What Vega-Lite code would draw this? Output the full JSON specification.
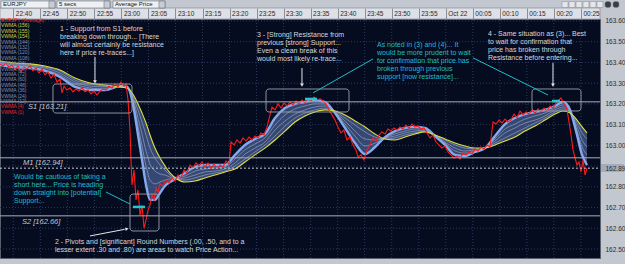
{
"$schema":"https://vega.github.io/schema/vega-lite/v6.json",
"width":600,"height":239,
"autosize":{"type":"none"},
"padding":{"left":0,"top":19,"right":25,"bottom":6},
"background":"#c3c7d0",
"view":{"fill":"#060c20","stroke":"#5a606c"},
"config":{"font":"Liberation Sans"},
"datasets":{
"price":[
{"t":37.54,"p":163.393},{"t":38.10,"p":163.383},{"t":38.65,"p":163.397},{"t":39.20,"p":163.378},{"t":39.76,"p":163.388},{"t":40.31,"p":163.364},{"t":40.87,"p":163.383},{"t":41.42,"p":163.354},{"t":41.98,"p":163.378},{"t":42.53,"p":163.368},{"t":43.09,"p":163.383},{"t":43.64,"p":163.359},{"t":44.20,"p":163.373},{"t":44.75,"p":163.349},{"t":45.31,"p":163.368},{"t":45.86,"p":163.340},{"t":46.42,"p":163.354},{"t":46.97,"p":163.325},{"t":47.53,"p":163.344},{"t":48.08,"p":163.306},{"t":48.64,"p":163.320},{"t":49.01,"p":163.253},{"t":49.38,"p":163.286},{"t":49.93,"p":163.267},{"t":50.49,"p":163.277},{"t":51.04,"p":163.258},{"t":51.60,"p":163.272},{"t":52.15,"p":163.262},{"t":52.71,"p":163.277},{"t":53.26,"p":163.258},{"t":53.82,"p":163.267},{"t":54.37,"p":163.248},{"t":54.93,"p":163.262},{"t":55.48,"p":163.243},{"t":56.04,"p":163.262},{"t":56.59,"p":163.272},{"t":57.15,"p":163.267},{"t":57.70,"p":163.286},{"t":58.26,"p":163.277},{"t":58.81,"p":163.296},{"t":59.37,"p":163.282},{"t":59.92,"p":163.306},{"t":60.48,"p":163.286},{"t":60.85,"p":163.296},{"t":61.22,"p":163.219},{"t":61.59,"p":163.074},{"t":61.77,"p":162.930},{"t":61.96,"p":162.809},{"t":62.33,"p":162.881},{"t":62.70,"p":162.737},{"t":63.07,"p":162.785},{"t":63.44,"p":162.664},{"t":63.81,"p":162.712},{"t":64.18,"p":162.601},{"t":64.55,"p":162.640},{"t":64.92,"p":162.688},{"t":65.29,"p":162.712},{"t":65.66,"p":162.761},{"t":66.03,"p":162.737},{"t":66.40,"p":162.794},{"t":66.77,"p":162.775},{"t":67.14,"p":162.814},{"t":67.69,"p":162.804},{"t":68.25,"p":162.833},{"t":68.80,"p":162.819},{"t":69.36,"p":162.843},{"t":69.91,"p":162.828},{"t":70.47,"p":162.857},{"t":71.02,"p":162.843},{"t":71.58,"p":162.881},{"t":72.13,"p":162.867},{"t":72.69,"p":162.905},{"t":73.24,"p":162.891},{"t":73.80,"p":162.915},{"t":74.35,"p":162.901},{"t":74.91,"p":162.920},{"t":75.46,"p":162.896},{"t":76.02,"p":162.915},{"t":76.57,"p":162.891},{"t":77.13,"p":162.910},{"t":77.68,"p":162.886},{"t":78.24,"p":162.905},{"t":78.79,"p":162.896},{"t":79.35,"p":162.925},{"t":79.90,"p":162.910},{"t":80.27,"p":163.016},{"t":80.83,"p":163.002},{"t":81.38,"p":163.026},{"t":81.94,"p":163.011},{"t":82.49,"p":163.036},{"t":83.05,"p":163.021},{"t":83.60,"p":163.040},{"t":84.16,"p":163.026},{"t":84.71,"p":163.045},{"t":85.27,"p":163.036},{"t":85.82,"p":163.060},{"t":86.38,"p":163.050},{"t":86.93,"p":163.089},{"t":87.49,"p":163.147},{"t":87.86,"p":163.185},{"t":88.41,"p":163.171},{"t":88.97,"p":163.200},{"t":89.52,"p":163.180},{"t":90.08,"p":163.204},{"t":90.63,"p":163.190},{"t":91.19,"p":163.209},{"t":91.74,"p":163.195},{"t":92.30,"p":163.214},{"t":92.85,"p":163.200},{"t":93.41,"p":163.219},{"t":93.96,"p":163.204},{"t":94.52,"p":163.224},{"t":95.07,"p":163.214},{"t":95.63,"p":163.233},{"t":96.18,"p":163.219},{"t":96.73,"p":163.224},{"t":97.29,"p":163.214},{"t":97.84,"p":163.200},{"t":98.40,"p":163.171},{"t":98.95,"p":163.147},{"t":99.51,"p":163.122},{"t":100.06,"p":163.089},{"t":100.62,"p":163.060},{"t":101.17,"p":163.074},{"t":101.73,"p":163.026},{"t":102.28,"p":163.040},{"t":102.84,"p":163.002},{"t":103.39,"p":162.978},{"t":103.76,"p":162.944},{"t":104.32,"p":162.954},{"t":104.87,"p":162.930},{"t":105.43,"p":162.978},{"t":105.98,"p":163.002},{"t":106.54,"p":163.036},{"t":107.09,"p":163.021},{"t":107.65,"p":163.050},{"t":108.20,"p":163.065},{"t":108.76,"p":163.055},{"t":109.31,"p":163.079},{"t":109.87,"p":163.069},{"t":110.42,"p":163.084},{"t":110.98,"p":163.074},{"t":111.53,"p":163.089},{"t":112.09,"p":163.079},{"t":112.64,"p":163.098},{"t":113.20,"p":163.084},{"t":113.75,"p":163.103},{"t":114.31,"p":163.089},{"t":114.86,"p":163.093},{"t":115.42,"p":163.079},{"t":115.97,"p":163.084},{"t":116.53,"p":163.060},{"t":117.08,"p":163.036},{"t":117.64,"p":163.050},{"t":118.19,"p":163.016},{"t":118.75,"p":163.002},{"t":119.30,"p":162.987},{"t":119.86,"p":162.997},{"t":120.41,"p":162.968},{"t":120.97,"p":162.954},{"t":121.52,"p":162.939},{"t":122.08,"p":162.949},{"t":122.63,"p":162.934},{"t":123.19,"p":162.963},{"t":123.74,"p":162.954},{"t":124.30,"p":162.968},{"t":124.85,"p":162.958},{"t":125.41,"p":162.983},{"t":125.96,"p":162.973},{"t":126.52,"p":162.992},{"t":127.07,"p":162.983},{"t":127.63,"p":163.002},{"t":128.18,"p":162.992},{"t":128.74,"p":163.113},{"t":129.29,"p":163.103},{"t":129.85,"p":163.122},{"t":130.40,"p":163.108},{"t":130.96,"p":163.127},{"t":131.51,"p":163.113},{"t":132.07,"p":163.122},{"t":132.62,"p":163.151},{"t":133.18,"p":163.132},{"t":133.73,"p":163.166},{"t":134.29,"p":163.147},{"t":134.84,"p":163.161},{"t":135.40,"p":163.151},{"t":135.95,"p":163.171},{"t":136.51,"p":163.156},{"t":137.06,"p":163.176},{"t":137.62,"p":163.161},{"t":138.17,"p":163.180},{"t":138.73,"p":163.166},{"t":139.28,"p":163.190},{"t":139.84,"p":163.180},{"t":140.39,"p":163.204},{"t":140.95,"p":163.219},{"t":141.32,"p":163.229},{"t":141.69,"p":163.209},{"t":142.06,"p":163.195},{"t":142.43,"p":163.171},{"t":142.80,"p":163.113},{"t":143.17,"p":163.050},{"t":143.54,"p":162.978},{"t":143.91,"p":162.939},{"t":144.28,"p":162.905},{"t":144.65,"p":162.920},{"t":145.02,"p":162.872},{"t":145.39,"p":162.930},{"t":145.76,"p":162.857},{"t":146.13,"p":162.891}
],
"ma":[
{"t":37.54,"p":163.388,"m1":163.393,"m2":163.397,"m3":163.402,"p2":163.407},
{"t":40.31,"p":163.378,"m1":163.383,"m2":163.388,"m3":163.393,"p2":163.397},
{"t":43.09,"p":163.373,"m1":163.378,"m2":163.383,"m3":163.388,"p2":163.393},
{"t":45.86,"p":163.359,"m1":163.364,"m2":163.373,"m3":163.378,"p2":163.383},
{"t":48.64,"p":163.330,"m1":163.340,"m2":163.349,"m3":163.359,"p2":163.364},
{"t":51.41,"p":163.282,"m1":163.296,"m2":163.306,"m3":163.315,"p2":163.325},
{"t":54.19,"p":163.267,"m1":163.277,"m2":163.286,"m3":163.296,"p2":163.301},
{"t":56.96,"p":163.267,"m1":163.272,"m2":163.282,"m3":163.286,"p2":163.291},
{"t":59.74,"p":163.286,"m1":163.286,"m2":163.282,"m3":163.282,"p2":163.282},
{"t":60.85,"p":163.286,"m1":163.282,"m2":163.282,"m3":163.277,"p2":163.277},
{"t":61.59,"p":163.258,"m1":163.262,"m2":163.262,"m3":163.267,"p2":163.267},
{"t":62.33,"p":163.171,"m1":163.190,"m2":163.209,"m3":163.224,"p2":163.238},
{"t":63.07,"p":163.050,"m1":163.093,"m2":163.132,"m3":163.171,"p2":163.200},
{"t":63.81,"p":162.930,"m1":162.997,"m2":163.055,"m3":163.113,"p2":163.156},
{"t":64.55,"p":162.809,"m1":162.901,"m2":162.973,"m3":163.050,"p2":163.108},
{"t":65.29,"p":162.737,"m1":162.833,"m2":162.910,"m3":162.987,"p2":163.050},
{"t":66.21,"p":162.737,"m1":162.814,"m2":162.876,"m3":162.939,"p2":162.987},
{"t":67.14,"p":162.770,"m1":162.823,"m2":162.862,"m3":162.905,"p2":162.939},
{"t":68.06,"p":162.804,"m1":162.833,"m2":162.857,"m3":162.881,"p2":162.901},
{"t":68.99,"p":162.823,"m1":162.838,"m2":162.847,"m3":162.857,"p2":162.867},
{"t":70.28,"p":162.843,"m1":162.843,"m2":162.838,"m3":162.838,"p2":162.838},
{"t":71.76,"p":162.867,"m1":162.852,"m2":162.843,"m3":162.833,"p2":162.823},
{"t":73.61,"p":162.896,"m1":162.876,"m2":162.857,"m3":162.843,"p2":162.828},
{"t":75.46,"p":162.905,"m1":162.886,"m2":162.872,"m3":162.857,"p2":162.843},
{"t":77.31,"p":162.905,"m1":162.891,"m2":162.876,"m3":162.867,"p2":162.857},
{"t":79.16,"p":162.905,"m1":162.896,"m2":162.886,"m3":162.876,"p2":162.872},
{"t":81.01,"p":162.954,"m1":162.934,"m2":162.915,"m3":162.901,"p2":162.886},
{"t":82.86,"p":163.002,"m1":162.978,"m2":162.958,"m3":162.934,"p2":162.920},
{"t":84.71,"p":163.031,"m1":163.007,"m2":162.987,"m3":162.968,"p2":162.954},
{"t":86.56,"p":163.055,"m1":163.036,"m2":163.016,"m3":163.002,"p2":162.987},
{"t":88.41,"p":163.132,"m1":163.098,"m2":163.074,"m3":163.045,"p2":163.026},
{"t":90.26,"p":163.180,"m1":163.147,"m2":163.118,"m3":163.093,"p2":163.069},
{"t":92.11,"p":163.200,"m1":163.176,"m2":163.151,"m3":163.132,"p2":163.113},
{"t":93.96,"p":163.209,"m1":163.190,"m2":163.171,"m3":163.156,"p2":163.142},
{"t":95.81,"p":163.219,"m1":163.200,"m2":163.185,"m3":163.171,"p2":163.161},
{"t":97.66,"p":163.209,"m1":163.200,"m2":163.190,"m3":163.180,"p2":163.171},
{"t":99.51,"p":163.156,"m1":163.161,"m2":163.161,"m3":163.166,"p2":163.166},
{"t":101.36,"p":163.084,"m1":163.103,"m2":163.118,"m3":163.132,"p2":163.147},
{"t":103.21,"p":163.011,"m1":163.045,"m2":163.069,"m3":163.098,"p2":163.118},
{"t":105.06,"p":162.958,"m1":162.997,"m2":163.031,"m3":163.065,"p2":163.089},
{"t":106.91,"p":162.992,"m1":163.011,"m2":163.026,"m3":163.040,"p2":163.055},
{"t":108.76,"p":163.040,"m1":163.036,"m2":163.036,"m3":163.031,"p2":163.031},
{"t":110.61,"p":163.069,"m1":163.055,"m2":163.045,"m3":163.036,"p2":163.026},
{"t":112.46,"p":163.084,"m1":163.069,"m2":163.060,"m3":163.050,"p2":163.040},
{"t":114.31,"p":163.089,"m1":163.079,"m2":163.069,"m3":163.060,"p2":163.055},
{"t":116.16,"p":163.084,"m1":163.079,"m2":163.074,"m3":163.069,"p2":163.065},
{"t":118.01,"p":163.045,"m1":163.045,"m2":163.050,"m3":163.050,"p2":163.050},
{"t":119.86,"p":163.002,"m1":163.011,"m2":163.016,"m3":163.026,"p2":163.031},
{"t":121.71,"p":162.954,"m1":162.973,"m2":162.987,"m3":163.002,"p2":163.011},
{"t":123.56,"p":162.949,"m1":162.963,"m2":162.973,"m3":162.987,"p2":162.997},
{"t":125.41,"p":162.968,"m1":162.973,"m2":162.978,"m3":162.983,"p2":162.987},
{"t":127.26,"p":162.987,"m1":162.987,"m2":162.987,"m3":162.987,"p2":162.987},
{"t":129.11,"p":163.045,"m1":163.031,"m2":163.021,"m3":163.011,"p2":163.002},
{"t":130.96,"p":163.103,"m1":163.079,"m2":163.060,"m3":163.036,"p2":163.021},
{"t":132.81,"p":163.132,"m1":163.103,"m2":163.084,"m3":163.060,"p2":163.040},
{"t":134.66,"p":163.151,"m1":163.127,"m2":163.108,"m3":163.084,"p2":163.069},
{"t":136.51,"p":163.161,"m1":163.142,"m2":163.122,"m3":163.108,"p2":163.093},
{"t":138.36,"p":163.171,"m1":163.156,"m2":163.142,"m3":163.132,"p2":163.122},
{"t":140.21,"p":163.190,"m1":163.180,"m2":163.171,"m3":163.161,"p2":163.151},
{"t":141.69,"p":163.209,"m1":163.195,"m2":163.185,"m3":163.176,"p2":163.166},
{"t":142.99,"p":163.171,"m1":163.166,"m2":163.161,"m3":163.161,"p2":163.156},
{"t":144.28,"p":163.050,"m1":163.069,"m2":163.089,"m3":163.108,"p2":163.122},
{"t":145.21,"p":162.954,"m1":162.992,"m2":163.026,"m3":163.060,"p2":163.089},
{"t":146.13,"p":162.905,"m1":162.954,"m2":162.992,"m3":163.031,"p2":163.060}
]
},
"encoding":{
"x":{"field":"t","type":"quantitative","scale":{"domain":[37.54,148.53],"nice":false,"zero":false},
 "axis":{"orient":"top","title":null,"values":[40,45,50,55,60,65,70,75,80,85,90,95,100,105,110,115,120,125,130,135,140,145],
  "labelExpr":"datum.value == 120 ? 'Oct 22' : datum.value < 60 ? '22:' + datum.value : datum.value < 120 ? '23:' + (datum.value < 70 ? '0' : '') + (datum.value - 60) : '00:' + (datum.value < 130 ? '0' : '') + (datum.value - 120)",
  "labelAlign":"left","labelOffset":2,"labelFontSize":6.5,"labelColor":"#2b2b2b","labelFont":"Liberation Sans",
  "tickSize":11,"tickColor":"#8a8f99","labelPadding":-8.5,"domain":false,"grid":false,"labelOverlap":false,"labelFlush":false,"labelBound":false,"zindex":1}},
"y":{"field":"p","type":"quantitative","scale":{"domain":[162.4567,163.6096],"nice":false,"zero":false},
 "axis":{"orient":"right","title":null,"values":[163.6,163.5,163.4,163.3,163.2,163.1,163.0,162.89,162.8,162.7,162.6,162.5],
  "format":".2f","labelFontSize":6.5,"labelColor":"#2b2b2b","labelFont":"Liberation Sans","ticks":false,"labelPadding":5,
  "domain":false,"grid":false,"labelOverlap":false,"labelBound":false,"zindex":1}}
},
"layer":[
{"data":{"values":[{"t":37.54,"t2":148.53,"p":163.6627,"p2":163.6096}]},
 "mark":{"type":"rect","fill":"#dde0e6","stroke":"#7d828c","strokeWidth":0.6,"clip":false},
 "encoding":{"x2":{"field":"t2"},"y2":{"field":"p2"}}},
{"data":{"values":[{"t":37.72,"t2":47.71,"p":163.6965,"p2":163.6627},{"t":48.08,"t2":57.89,"p":163.6965,"p2":163.6627},{"t":58.44,"t2":68.06,"p":163.6965,"p2":163.6627}]},
 "mark":{"type":"rect","fill":"#eef0f3","stroke":"#70757e","strokeWidth":0.6,"clip":false},
 "encoding":{"x2":{"field":"t2"},"y2":{"field":"p2"}}},
{"data":{"values":[{"t":46.60,"t2":47.71,"p":163.6965,"p2":163.6627},{"t":56.78,"t2":57.89,"p":163.6965,"p2":163.6627},{"t":66.95,"t2":68.06,"p":163.6965,"p2":163.6627}]},
 "mark":{"type":"rect","fill":"#c8ccd4","stroke":"#70757e","strokeWidth":0.6,"clip":false},
 "encoding":{"x2":{"field":"t2"},"y2":{"field":"p2"}}},
{"data":{"values":[{"t":141.50,"t2":142.61,"p":163.694,"p2":163.665},{"t":142.80,"t2":143.90,"p":163.694,"p2":163.665},{"t":144.09,"t2":145.20,"p":163.694,"p2":163.665},{"t":145.38,"t2":146.49,"p":163.694,"p2":163.665},{"t":146.68,"t2":147.79,"p":163.694,"p2":163.665},{"t":147.97,"t2":149.08,"p":163.694,"p2":163.665}]},
 "mark":{"type":"rect","fill":"#e4e6ea","stroke":"#80848c","strokeWidth":0.5,"clip":false},
 "encoding":{"x2":{"field":"t2"},"y2":{"field":"p2"}}},
{"data":{"values":[{"t":149.45,"t2":150.56,"p":163.694,"p2":163.665},{"t":150.93,"t2":152.04,"p":163.694,"p2":163.665}]},
 "mark":{"type":"rect","fill":"#3a3e46","stroke":"#80848c","strokeWidth":0.5,"cornerRadius":2,"clip":false},
 "encoding":{"x2":{"field":"t2"},"y2":{"field":"p2"}}},
{"data":{"values":[{"t":38.10,"p":163.6796,"text":"EURJPY"},{"t":48.45,"p":163.6796,"text":"5 secs"},{"t":58.80,"p":163.6796,"text":"Average Price"}]},
 "mark":{"type":"text","align":"left","baseline":"middle","fontSize":6,"color":"#111111","clip":false},
 "encoding":{"text":{"field":"text"}}},
{"data":{"values":[{"t":148.72,"t2":152.97,"p":162.910,"p2":162.872}]},
 "mark":{"type":"rect","fill":"#a3abbd","clip":false},
 "encoding":{"x2":{"field":"t2"},"y2":{"field":"p2"}}},
{"data":{"values":[{"t":40,"p":162.4567,"p2":163.6096},{"t":45,"p":162.4567,"p2":163.6096},{"t":50,"p":162.4567,"p2":163.6096},{"t":55,"p":162.4567,"p2":163.6096},{"t":60,"p":162.4567,"p2":163.6096},{"t":65,"p":162.4567,"p2":163.6096},{"t":70,"p":162.4567,"p2":163.6096},{"t":75,"p":162.4567,"p2":163.6096},{"t":80,"p":162.4567,"p2":163.6096},{"t":85,"p":162.4567,"p2":163.6096},{"t":90,"p":162.4567,"p2":163.6096},{"t":95,"p":162.4567,"p2":163.6096},{"t":100,"p":162.4567,"p2":163.6096},{"t":105,"p":162.4567,"p2":163.6096},{"t":110,"p":162.4567,"p2":163.6096},{"t":115,"p":162.4567,"p2":163.6096},{"t":120,"p":162.4567,"p2":163.6096},{"t":125,"p":162.4567,"p2":163.6096},{"t":130,"p":162.4567,"p2":163.6096},{"t":135,"p":162.4567,"p2":163.6096},{"t":140,"p":162.4567,"p2":163.6096},{"t":145,"p":162.4567,"p2":163.6096}]},
 "mark":{"type":"rule","color":"#2c3a60","strokeDash":[1,2],"strokeWidth":1},
 "encoding":{"y2":{"field":"p2"}}},
{"data":{"values":[{"t":37.54,"t2":148.53,"p":163.6},{"t":37.54,"t2":148.53,"p":163.5},{"t":37.54,"t2":148.53,"p":163.4},{"t":37.54,"t2":148.53,"p":163.3},{"t":37.54,"t2":148.53,"p":163.2},{"t":37.54,"t2":148.53,"p":163.1},{"t":37.54,"t2":148.53,"p":163.0},{"t":37.54,"t2":148.53,"p":162.9},{"t":37.54,"t2":148.53,"p":162.8},{"t":37.54,"t2":148.53,"p":162.7},{"t":37.54,"t2":148.53,"p":162.6},{"t":37.54,"t2":148.53,"p":162.5}]},
 "mark":{"type":"rule","color":"#2c3a60","strokeDash":[1,2],"strokeWidth":1},
 "encoding":{"x2":{"field":"t2"}}},
{"data":{"name":"ma"},
 "mark":{"type":"area","interpolate":"monotone","color":"#6384c6","opacity":0.5},
 "encoding":{"y2":{"field":"p2"}}},
{"data":{"name":"ma"},
 "transform":[{"fold":["m1","m2","m3"],"as":["series","p"]}],
 "mark":{"type":"line","interpolate":"monotone","color":"#eef2ff","strokeWidth":0.6,"opacity":0.6},
 "encoding":{"detail":{"field":"series"}}},
{"data":{"name":"ma"},
 "mark":{"type":"line","interpolate":"monotone","color":"#86a8ec","strokeWidth":2.4}},
{"data":{"name":"ma"},
 "transform":[{"fold":["p2"],"as":["series","p"]}],
 "mark":{"type":"line","interpolate":"monotone","color":"#dede3c","strokeWidth":1.1}},
{"data":{"name":"price"},
 "mark":{"type":"line","color":"#ff1a1a","strokeWidth":1.1}},
{"data":{"values":[{"t":37.54,"t2":148.53,"p":163.21},{"t":37.54,"t2":148.53,"p":162.94},{"t":37.54,"t2":148.53,"p":162.66}]},
 "mark":{"type":"rule","color":"#a9aeb8","strokeWidth":1},
 "encoding":{"x2":{"field":"t2"}}},
{"data":{"values":[{"t":37.54,"t2":148.53,"p":162.89}]},
 "mark":{"type":"rule","color":"#c4c8d0","strokeWidth":1,"strokeDash":[2,2]},
 "encoding":{"x2":{"field":"t2"}}},
{"data":{"values":[{"t":42.72,"p":163.185,"text":"S1 [163.21]"},{"t":41.79,"p":162.915,"text":"M1 [162.94]"},{"t":41.61,"p":162.630,"text":"S2 [162.66]"}]},
 "mark":{"type":"text","align":"left","baseline":"middle","fontSize":7.5,"fontStyle":"italic","color":"#c4c8d0"},
 "encoding":{"text":{"field":"text"}}},
{"data":{"values":[{"t":47.34,"t2":61.96,"p":163.296,"p2":163.156},{"t":86.75,"t2":102.10,"p":163.272,"p2":163.161},{"t":135.95,"t2":145.02,"p":163.272,"p2":163.166},{"t":61.59,"t2":66.95,"p":162.765,"p2":162.587}]},
 "mark":{"type":"rect","fill":null,"fillOpacity":0,"stroke":"#9aa0aa","strokeWidth":0.9,"cornerRadius":3},
 "encoding":{"x2":{"field":"t2"},"y2":{"field":"p2"}}},
{"data":{"values":[
 {"t":48.64,"p":163.581,"text":"1 - Support from S1 before\nbreaking down through... [There\nwill almost certainly be resistance\nhere if price re-traces...]"},
 {"t":85.08,"p":163.552,"text":"3 - [Strong] Resistance from\nprevious [strong] Support...\nEven a clean break of this\nwould most likely re-trace..."},
 {"t":127.81,"p":163.557,"text":"4 - Same situation as (3)... Best\nto wait for confirmation that\nprice has broken through\nResistance before entering..."},
 {"t":47.71,"p":162.553,"text":"2 - Pivots and [significant] Round Numbers (.00, .50, and to a\nlesser extent .30 and .80) are areas to watch Price Action..."}]},
 "mark":{"type":"text","align":"left","baseline":"top","fontSize":7,"lineHeight":7.9,"lineBreak":"\n","color":"#d6d8dc"},
 "encoding":{"text":{"field":"text"}}},
{"data":{"values":[
 {"t":107.28,"p":163.504,"text":"As noted in (3) and (4)... It\nwould be more prudent to wait\nfor confirmation that price has\nbroken through previous\nsupport [now resistance]..."},
 {"t":40.13,"p":162.867,"text":"Would be cautious of taking a\nshort here... Price is heading\ndown straight into [potential]\nSupport..."}]},
 "mark":{"type":"text","align":"left","baseline":"top","fontSize":7,"lineHeight":8,"lineBreak":"\n","color":"#22bcc4"},
 "encoding":{"text":{"field":"text"}}},
{"data":{"values":[{"t":55.11,"t2":55.11,"p":163.426,"p2":163.311},{"t":93.40,"t2":93.40,"p":163.373,"p2":163.296},{"t":139.83,"t2":139.83,"p":163.397,"p2":163.296},{"t":54.19,"t2":60.6,"p":162.563,"p2":162.595}]},
 "mark":{"type":"rule","color":"#e4e6ea","strokeWidth":1},
 "encoding":{"x2":{"field":"t2"},"y2":{"field":"p2"}}},
{"data":{"values":[{"t":55.11,"p":163.306},{"t":93.40,"p":163.291},{"t":139.83,"p":163.291}]},
 "mark":{"type":"point","shape":"triangle-down","filled":true,"size":14,"color":"#e4e6ea","opacity":1}},
{"data":{"values":[{"t":61.03,"p":162.597}]},
 "mark":{"type":"point","shape":"triangle-right","angle":-11,"filled":true,"size":14,"color":"#e4e6ea","opacity":1}},
{"data":{"values":[{"t":106.54,"t2":95.44,"p":163.417,"p2":163.253},{"t":125.04,"t2":138.91,"p":163.422,"p2":163.243},{"t":57.15,"t2":61.59,"p":162.775,"p2":162.717}]},
 "mark":{"type":"rule","color":"#22bcc4","strokeWidth":1},
 "encoding":{"x2":{"field":"t2"},"y2":{"field":"p2"}}},
{"data":{"values":[{"t":93.96,"t2":96.18,"p":163.224},{"t":139.65,"t2":141.13,"p":163.214},{"t":62.14,"t2":64.36,"p":162.703}]},
 "mark":{"type":"rule","color":"#22c8d0","strokeWidth":2.5},
 "encoding":{"x2":{"field":"t2"}}},
{"data":{"values":[
 {"t":37.72,"p":163.605,"text":"EURJPY (Average)","g":"base"},
 {"t":37.72,"p":163.579,"text":"VWMA (156)","g":"slow"},
 {"t":37.72,"p":163.553,"text":"VWMA (155)","g":"slow"},
 {"t":37.72,"p":163.527,"text":"VWMA (154)","g":"slow"},
 {"t":37.72,"p":163.501,"text":"VWMA (144)","g":"mid"},
 {"t":37.72,"p":163.475,"text":"VWMA (132)","g":"mid"},
 {"t":37.72,"p":163.449,"text":"VWMA (120)","g":"mid"},
 {"t":37.72,"p":163.423,"text":"VWMA (108)","g":"mid"},
 {"t":37.72,"p":163.396,"text":"VWMA (96)","g":"mid"},
 {"t":37.72,"p":163.370,"text":"VWMA (84)","g":"mid"},
 {"t":37.72,"p":163.344,"text":"VWMA (72)","g":"mid"},
 {"t":37.72,"p":163.318,"text":"VWMA (60)","g":"mid"},
 {"t":37.72,"p":163.292,"text":"VWMA (48)","g":"mid"},
 {"t":37.72,"p":163.266,"text":"VWMA (36)","g":"mid"},
 {"t":37.72,"p":163.240,"text":"VWMA (24)","g":"mid"},
 {"t":37.72,"p":163.214,"text":"VWMA (12)","g":"mid"},
 {"t":37.72,"p":163.188,"text":"VWMA (4)","g":"fast"},
 {"t":37.72,"p":163.162,"text":"VWMA (1)","g":"fast"}]},
 "mark":{"type":"text","align":"left","baseline":"middle","fontSize":5},
 "encoding":{"text":{"field":"text"},"color":{"field":"g","type":"nominal","scale":{"domain":["base","slow","mid","fast"],"range":["#e02828","#d2d23a","#7f8db0","#e02828"]},"legend":null}}}
]
}
